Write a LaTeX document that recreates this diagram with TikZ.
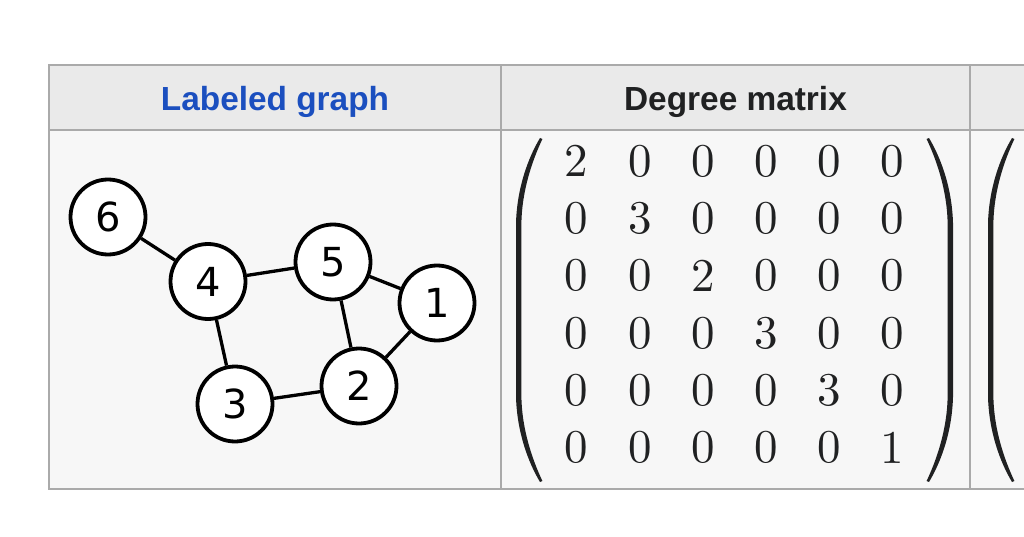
\documentclass[tikz,border=0pt]{standalone}
\usepackage{fontspec}
\newfontfamily\hdrfont{Liberation Sans}
\newfontfamily\vfont{DejaVu Sans}
\newfontfamily\mfont{lmroman10-regular.otf}
\definecolor{hdrbg}{HTML}{EAEAEA}
\definecolor{bodybg}{HTML}{F7F7F7}
\definecolor{rulec}{HTML}{AAAAAA}
\definecolor{linkblue}{HTML}{1B4FBF}
\definecolor{ink}{HTML}{202122}
\tikzset{
  lparen/.pic={
    \fill[ink] (0,0) .. controls (-12,20) and (-23,50) .. (-24,85)
      -- (-24,259) .. controls (-23,294) and (-12,324) .. (0,344)
      -- (2.4,343) .. controls (-7.5,322) and (-18,292) .. (-18.6,259)
      -- (-18.6,85) .. controls (-18,52) and (-7.5,22) .. (2.4,1) -- cycle;
  }
}
\begin{document}
\begin{tikzpicture}[x=1pt,y=-1pt,
  vtx/.style={circle, draw=black, line width=3.8pt, fill=white, minimum size=75pt, inner sep=0pt, font=\vfont\fontsize{40}{40}\selectfont},
  link/.style={line width=3.3pt, black},
  hdr/.style={anchor=base, font=\hdrfont\bfseries\fontsize{33.4}{40}\selectfont},
  ent/.style={font=\mfont\fontsize{47}{47}\selectfont, text=ink, inner sep=0pt},
  rulel/.style={draw=rulec, line width=2pt}]
\useasboundingbox (0,0) rectangle (1024,537);
\fill[white] (0,0) rectangle (1024,537);
\fill[bodybg] (49,130) rectangle (1030,489);
\fill[hdrbg] (49,65) rectangle (1030,130);
\draw[rulel] (1030,65) -- (49,65) -- (49,489) -- (1030,489);
\draw[rulel] (49,130) -- (1030,130);
\draw[rulel] (501,65) -- (501,489);
\draw[rulel] (970,65) -- (970,489);
% headers
\node[hdr, text=linkblue] (h1) at (275,111) {Labeled graph};
\node[hdr, text=ink] (h2) at (735.5,111) {Degree matrix};
% graph
\node[vtx] (v6) at (108,217) {6};
\node[vtx] (v4) at (208,281.5) {4};
\node[vtx] (v5) at (333,262) {5};
\node[vtx] (v1) at (437,303) {1};
\node[vtx] (v2) at (359,386) {2};
\node[vtx] (v3) at (235,404) {3};
\draw[link] (v6) -- (v4);
\draw[link] (v4) -- (v5);
\draw[link] (v4) -- (v3);
\draw[link] (v5) -- (v1);
\draw[link] (v5) -- (v2);
\draw[link] (v1) -- (v2);
\draw[link] (v3) -- (v2);
% matrix
\foreach \row [count=\r] in {{2,0,0,0,0,0},{0,3,0,0,0,0},{0,0,2,0,0,0},{0,0,0,3,0,0},{0,0,0,0,3,0},{0,0,0,0,0,1}} {
  \foreach \val [count=\c] in \row {
    \node[ent] (m\r\c) at ({576.7+63.1*(\c-1)}, {161+57.3*(\r-1)}) {\val};
  }
}
\pic at (540,138) {lparen};
\pic[xscale=-1] at (929,138) {lparen};
\pic at (1012,138) {lparen};
\end{tikzpicture}
\end{document}
